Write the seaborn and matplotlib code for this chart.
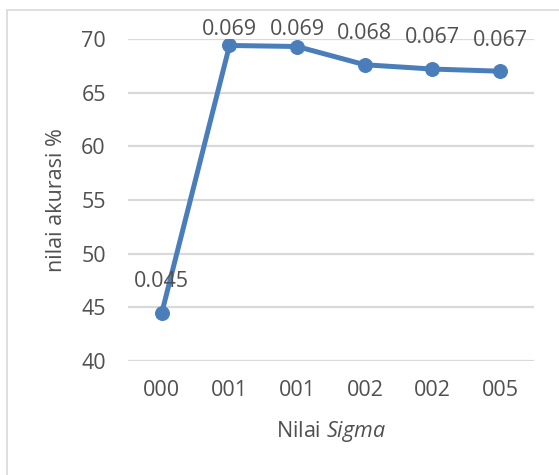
import matplotlib
matplotlib.use("Agg")
import matplotlib.pyplot as plt
import seaborn as sns
import pandas as pd
from matplotlib.patches import Rectangle

categories = ["000", "001", "001", "002", "002", "005"]
accuracy = [44.5, 69.4, 69.3, 67.6, 67.2, 67.0]
point_labels = ["0.045", "0.069", "0.069", "0.068", "0.067", "0.067"]
y_ticks = [40, 45, 50, 55, 60, 65, 70]

sns.set_style("white")
plt.rcParams['font.family'] = ['Open Sans', 'DejaVu Sans']
plt.rcParams['mathtext.fontset'] = 'custom'
plt.rcParams['mathtext.rm'] = 'Open Sans'
plt.rcParams['mathtext.it'] = 'Open Sans:italic'

text_color = "#505050"
line_color = "#4A7EBB"
grid_color = "#D9D9D9"
fs = 15.5

df = pd.DataFrame({"pos": range(len(categories)), "acc": accuracy})

fig = plt.figure(figsize=(5.59, 4.75), dpi=100)
fig.patches.append(Rectangle((7/559, -0.1), 1.2, 1 - 10/475 + 0.1,
                             transform=fig.transFigure, fill=False,
                             edgecolor=grid_color, linewidth=1.2))
ax = fig.add_axes([128/559, 1 - 361/475, 406/559, 322/475])

sns.lineplot(data=df, x="pos", y="acc", ax=ax, color=line_color,
             linewidth=3.6, marker="o", markersize=10,
             markeredgecolor=line_color, zorder=3)

ax.set_xlim(-0.5, len(categories) - 0.5)
ax.set_ylim(40, 70)
ax.set_yticks(y_ticks)
ax.set_xticks(range(len(categories)))
ax.set_xticklabels(categories)
for s in ax.spines.values():
    s.set_visible(False)
ax.grid(axis="y", color=grid_color, linewidth=1.6)
ax.set_axisbelow(True)
ax.tick_params(axis="both", length=0, labelsize=fs, colors=text_color)
ax.tick_params(axis="y", pad=16)
ax.tick_params(axis="x", pad=14)

for i, (v, lab) in enumerate(zip(accuracy, point_labels)):
    ax.text(i, min(v + 2.9, 70.85), lab, ha="center", va="center",
            fontsize=fs, color=text_color, clip_on=False, zorder=4)

ax.set_xlabel(r"Nilai $\it{Sigma}$", fontsize=fs, color=text_color, va="center")
ax.xaxis.set_label_coords(0.5, (361 - 432) / 322)
ax.set_ylabel("nilai akurasi %", fontsize=fs, color=text_color, va="center")
ax.yaxis.set_label_coords((57 - 128) / 406, 0.5)

fig.savefig("out.png", dpi=100)
